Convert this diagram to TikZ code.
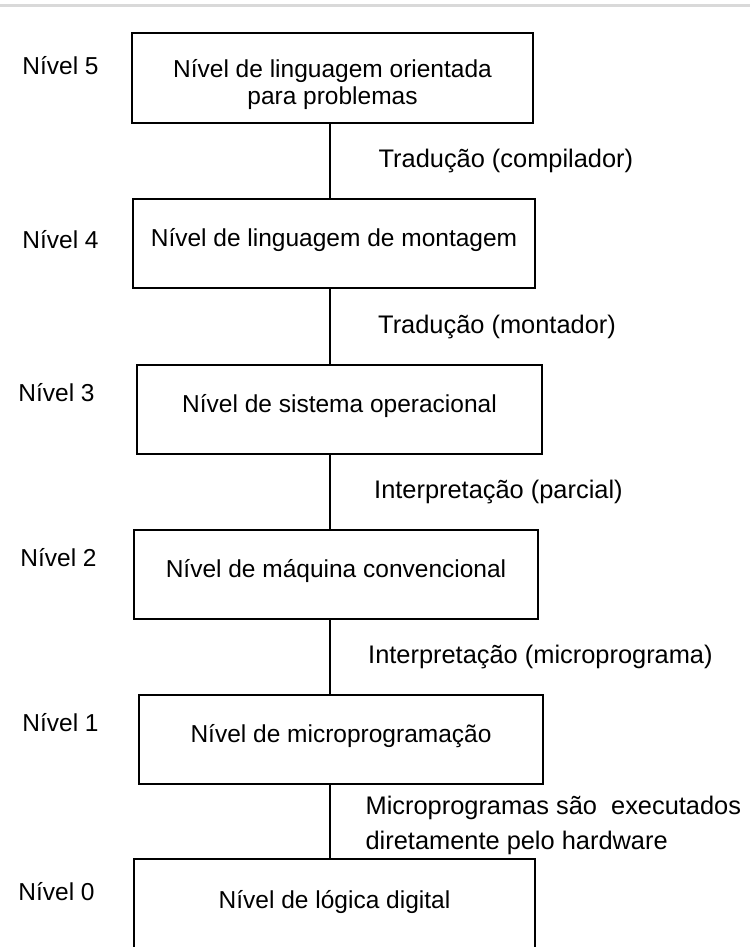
\documentclass[tikz,border=0pt]{standalone}
\usepackage{fontspec}
\setmainfont{Liberation Sans}
\usepackage{tikz}

\begin{document}
\begin{tikzpicture}[x=0.5pt,y=-0.5pt,
font=\fontsize{12.25pt}{13.5pt}\selectfont,
nivel/.style={draw,line width=0.8pt,inner sep=0pt,text height=8.8pt,text depth=6pt},
rotulo/.style={anchor=west,inner sep=0pt},
passo/.style={rotulo,midway,font=\fontsize{12.7pt}{17.5pt}\selectfont},
fino/.style={line width=0.6pt},
grosso/.style={line width=1.2pt}]
\useasboundingbox(0,0)rectangle(750,947);
\clip(0,0)rectangle(750,947);
\draw[black!15,line width=1.5pt](0,6)--(750,6);
% caixas dos niveis
\node[draw,line width=0.8pt,inner sep=0pt,align=center,minimum width=200.5pt,minimum height=45pt](c5)at(332.5,78){\rule{0pt}{16pt}Nível de linguagem orientada\\para problemas};
\node[nivel,minimum width=201pt,minimum height=44.5pt](c4)at(334,243.5){Nível de linguagem de montagem};
\node[nivel,minimum width=202.5pt,minimum height=44.5pt](c3)at(339.5,409.5){Nível de sistema operacional};
\node[nivel,minimum width=202pt,minimum height=44.5pt](c2)at(336,574.5){Nível de máquina convencional};
\node[nivel,minimum width=202pt,minimum height=44.5pt](c1)at(341,739.5){Nível de microprogramação};
\node[nivel,minimum width=200.5pt,minimum height=46.5pt](c0)at(334.5,905.5){Nível de lógica digital};
% rotulos da esquerda
\node[rotulo](n5)at(22,66){Nível 5};
\node[rotulo](n4)at(22,240){Nível 4};
\node[rotulo](n3)at(18,393){Nível 3};
\node[rotulo](n2)at(20,558){Nível 2};
\node[rotulo](n1)at(22,723){Nível 1};
\node[rotulo](n0)at(18,892){Nível 0};
% ligacoes entre niveis
\coordinate(eixo)at(330,0);
\draw[fino](c5.south-|eixo)--(c4.north-|eixo)
node[passo,xshift=24pt](t54){Tradução (compilador)};
\draw[grosso](c4.south-|eixo)--(c3.north-|eixo)
node[passo,xshift=23.5pt](t43){Tradução (montador)};
\draw[grosso](c3.south-|eixo)--(c2.north-|eixo)
node[passo,xshift=21.5pt](t32){Interpretação (parcial)};
\draw[grosso](c2.south-|eixo)--(c1.north-|eixo)
node[passo,xshift=18.5pt](t21){Interpretação (microprograma)};
\draw[fino](c1.south-|eixo)--(c0.north-|eixo)
node[passo,xshift=17.5pt,align=left,yshift=-2pt](t10){Microprogramas são\ \ executados\\diretamente pelo hardware};
\end{tikzpicture}
\end{document}
